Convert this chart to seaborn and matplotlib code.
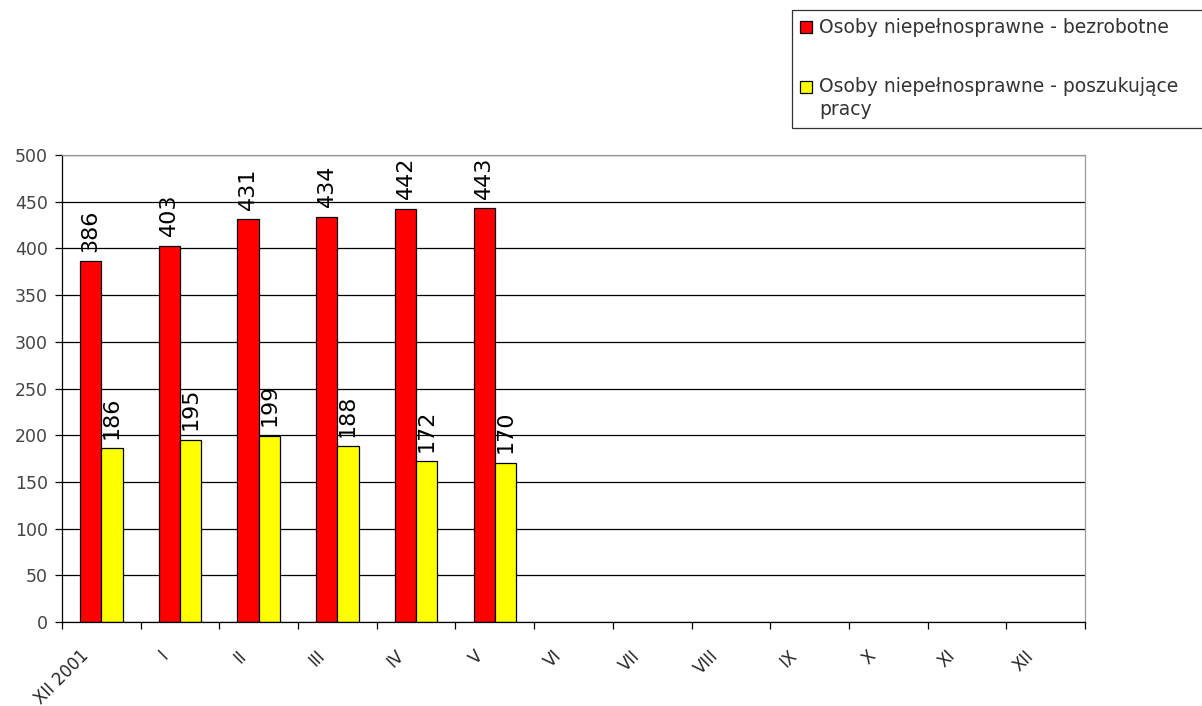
import numpy as np
import pandas as pd
import seaborn as sns
import matplotlib.pyplot as plt

months = ['XII 2001', 'I', 'II', 'III', 'IV', 'V', 'VI', 'VII', 'VIII', 'IX', 'X', 'XI', 'XII']
bezrobotne = [386, 403, 431, 434, 442, 443]
poszukujace = [186, 195, 199, 188, 172, 170]
series = ['Osoby niepełnosprawne - bezrobotne', 'Osoby niepełnosprawne - poszukujące\npracy']

sns.set_style('white')
plt.rcParams['font.family'] = ['DejaVu Sans']

n = len(bezrobotne)
df = pd.DataFrame({
    'miesiac': months[:n] * 2,
    'seria': [series[0]] * n + [series[1]] * n,
    'liczba': bezrobotne + poszukujace,
})

fig = plt.figure(figsize=(12.02, 7.06), dpi=100)
ax = fig.add_axes([62 / 1202, 84 / 706, 1023 / 1202, 467 / 706])

sns.barplot(data=df, x='miesiac', y='liczba', hue='seria', order=months, hue_order=series,
            palette=['#ff0000', '#ffff00'], saturation=1, edgecolor='black', linewidth=0.9,
            width=0.54, ax=ax, legend=True)

for c in ax.containers:
    ax.bar_label(c, rotation=90, fontsize=16, padding=7, color='black')

ax.set_xlim(-0.5, len(months) - 0.5)
ax.set_ylim(0, 500)
ax.set_yticks(np.arange(0, 501, 50))
ax.yaxis.grid(True, color='black', linewidth=0.9)
ax.set_axisbelow(True)
ax.set_xlabel('')
ax.set_ylabel('')

# labels sit a bit left of the category centre, ticks between categories
ax.set_xticks(np.arange(len(months)) - 0.27)
ax.set_xticklabels(months, rotation=45, ha='right', rotation_mode='anchor', fontsize=12)
ax.set_xticks(np.arange(len(months) + 1) - 0.5, minor=True)
ax.tick_params(axis='x', which='major', length=0, pad=18)
ax.tick_params(axis='x', which='minor', length=5, width=0.9, color='black', direction='out', bottom=True)
ax.tick_params(axis='y', length=5, width=0.9, color='black', direction='out', left=True,
               labelsize=12.5, labelcolor='#444444', pad=5)

for s in ['left', 'bottom']:
    ax.spines[s].set_color('black')
    ax.spines[s].set_linewidth(0.9)
for s in ['top', 'right']:
    ax.spines[s].set_color('#999999')
    ax.spines[s].set_linewidth(0.9)

handles, labels = ax.get_legend_handles_labels()
ax.get_legend().remove()
# legend box runs off the right edge like in the original
leg = fig.legend(handles, labels, loc='upper left', mode='expand',
                 bbox_to_anchor=(792 / 1202, 0, 0.36, 1 - 10 / 706),
                 frameon=True, fancybox=False, edgecolor='black', fontsize=13.5,
                 handlelength=0.6, handleheight=0.6, handletextpad=0.4, labelspacing=2.1,
                 borderpad=0.45, borderaxespad=0, labelcolor='#333333')
leg.get_frame().set_linewidth(0.9)
leg.get_texts()[1].set_linespacing(1.3)
# put the second square next to the first line of its label
h2 = leg.legend_handles[1]
h2.set_y(h2.get_y() + 8.5)

fig.savefig('out.png', dpi=100)
